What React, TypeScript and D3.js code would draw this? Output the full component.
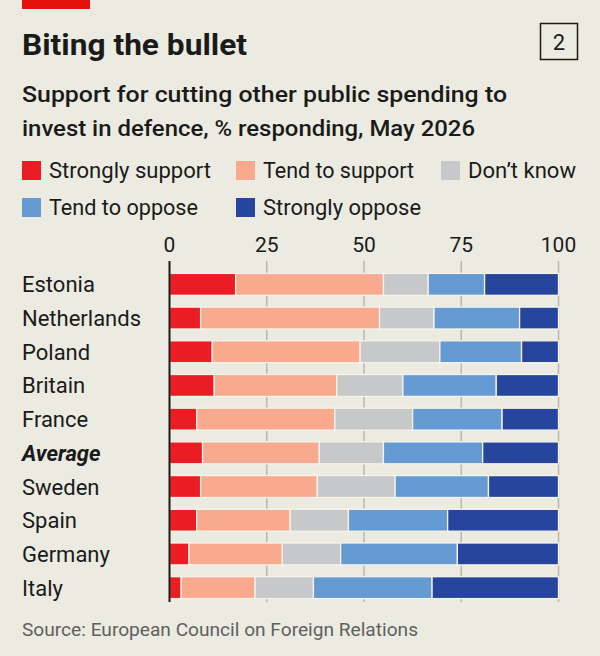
import React, { useEffect, useRef } from 'react';
import * as d3 from 'd3';

const countries = ['Estonia', 'Netherlands', 'Poland', 'Britain', 'France', 'Average', 'Sweden', 'Spain', 'Germany', 'Italy'];
const responses = ['Strongly support', 'Tend to support', "Don\u2019t know", 'Tend to oppose', 'Strongly oppose'];

// % responding, in the same order as countries
const stronglySupport = [17, 8, 11, 11.5, 7, 8.5, 8, 7, 5, 3];
const tendToSupport = [38, 46, 38, 31.5, 35.5, 30, 30, 24, 24, 19];
const dontKnow = [11.5, 14, 20.5, 17, 20, 16.5, 20, 15, 15, 15];
const tendToOppose = [14.5, 22, 21, 24, 23, 25.5, 24, 25.5, 30, 30.5];
const stronglyOppose = [19, 10, 9.5, 16, 14.5, 19.5, 18, 28.5, 26, 32.5];

const ticks = [0, 25, 50, 75, 100];
const colours = ['#ec1c24', '#f9a98d', '#c7c8ca', '#659ad3', '#27459c'];

const W = 600;
const H = 656;
const BG = '#ecebe1';
const FONT = 'Roboto, "Noto Sans", sans-serif';

const App = () => {
  const ref = useRef<HTMLDivElement>(null);

  useEffect(() => {
    d3.select(ref.current).select('svg').remove();

    const svg = d3
      .select(ref.current)
      .append('svg')
      .attr('width', W)
      .attr('height', H)
      .style('display', 'block')
      .style('font-family', FONT);

    svg.append('rect').attr('width', W).attr('height', H).attr('fill', BG);

    // header
    svg.append('rect').attr('x', 22).attr('y', 0).attr('width', 68).attr('height', 9).attr('fill', '#e3120b');
    svg
      .append('text')
      .attr('x', 22)
      .attr('y', 55)
      .attr('font-size', 29)
      .attr('font-weight', 700)
      .attr('fill', '#1a1a1a')
      .attr('textLength', 225)
      .attr('lengthAdjust', 'spacingAndGlyphs')
      .text('Biting the bullet');
    svg
      .append('rect')
      .attr('x', 540.5)
      .attr('y', 23.5)
      .attr('width', 37)
      .attr('height', 36)
      .attr('fill', 'none')
      .attr('stroke', '#1a1a1a')
      .attr('stroke-width', 1.5);
    svg
      .append('text')
      .attr('x', 559)
      .attr('y', 50)
      .attr('text-anchor', 'middle')
      .attr('font-size', 22)
      .attr('fill', '#1a1a1a')
      .text('2');

    const subtitle = ['Support for cutting other public spending to', 'invest in defence, % responding, May 2026'];
    const subW = [485, 453];
    subtitle.forEach((line, i) => {
      svg
        .append('text')
        .attr('x', 22)
        .attr('y', 102 + i * 33.5)
        .attr('font-size', 22.5)
        .attr('font-weight', 500)
        .attr('fill', '#1a1a1a')
        .attr('textLength', subW[i])
        .attr('lengthAdjust', 'spacingAndGlyphs')
        .text(line);
    });

    // legend
    const legendPos = [
      { x: 22, y: 161 },
      { x: 236, y: 161 },
      { x: 441, y: 161 },
      { x: 22, y: 198 },
      { x: 236, y: 198 },
    ];
    const legendW = [162, 151, 108, 149, 158];
    const legend = svg
      .selectAll('.legend')
      .data(responses)
      .enter()
      .append('g')
      .attr('class', 'legend')
      .attr('transform', (d, i) => `translate(${legendPos[i].x}, ${legendPos[i].y})`);
    legend.append('rect').attr('width', 19).attr('height', 19).attr('fill', (d, i) => colours[i]);
    legend
      .append('text')
      .attr('x', 27)
      .attr('y', 17)
      .attr('font-size', 21.5)
      .attr('fill', '#1a1a1a')
      .attr('textLength', (d, i) => legendW[i])
      .attr('lengthAdjust', 'spacingAndGlyphs')
      .text((d) => d);

    // scales
    const x = d3.scaleLinear().domain([0, 100]).range([169.5, 558.5]);
    const y = d3
      .scaleBand()
      .domain(countries)
      .range([267.5, 267.5 + 10 * 33.7])
      .paddingInner(0.35)
      .paddingOuter(0.175);

    const gridTop = 261;
    const gridBottom = 602;

    svg
      .append('g')
      .selectAll('line')
      .data(ticks.slice(1))
      .enter()
      .append('line')
      .attr('x1', (d) => x(d))
      .attr('x2', (d) => x(d))
      .attr('y1', gridTop)
      .attr('y2', gridBottom)
      .attr('stroke', '#b8b8b0')
      .attr('stroke-width', 1.5);

    svg
      .append('g')
      .selectAll('text')
      .data(ticks)
      .enter()
      .append('text')
      .attr('x', (d) => x(d))
      .attr('y', 252)
      .attr('text-anchor', 'middle')
      .attr('font-size', 21)
      .attr('fill', '#1a1a1a')
      .text((d) => d);

    // stacked bars
    const rows = countries.map((c, i) => ({
      country: c,
      0: stronglySupport[i],
      1: tendToSupport[i],
      2: dontKnow[i],
      3: tendToOppose[i],
      4: stronglyOppose[i],
    }));
    const stack = d3.stack<any>().keys(['0', '1', '2', '3', '4']);
    const series = stack(rows);

    svg
      .append('g')
      .selectAll('g')
      .data(series)
      .enter()
      .append('g')
      .attr('fill', (d, i) => colours[i])
      .selectAll('rect')
      .data((d) => d)
      .enter()
      .append('rect')
      .attr('x', (d) => x(d[0]))
      .attr('y', (d) => y(d.data.country)!)
      .attr('width', (d) => x(d[1]) - x(d[0]))
      .attr('height', y.bandwidth())
      .attr('stroke', '#f6f3ea')
      .attr('stroke-width', 1.3);

    // country labels
    svg
      .append('g')
      .selectAll('text')
      .data(countries)
      .enter()
      .append('text')
      .attr('x', 22)
      .attr('y', (d) => y(d)! + y.bandwidth() / 2 + 8)
      .attr('font-size', 22)
      .attr('font-weight', (d) => (d === 'Average' ? 700 : 400))
      .attr('font-style', (d) => (d === 'Average' ? 'italic' : 'normal'))
      .attr('fill', '#1a1a1a')
      .text((d) => d);

    // zero line
    svg
      .append('line')
      .attr('x1', x(0))
      .attr('x2', x(0))
      .attr('y1', gridTop)
      .attr('y2', gridBottom)
      .attr('stroke', '#1a1a1a')
      .attr('stroke-width', 2);

    // source
    svg
      .append('text')
      .attr('x', 22)
      .attr('y', 636)
      .attr('font-size', 18)
      .attr('fill', '#5f5f5f')
      .attr('textLength', 396)
      .attr('lengthAdjust', 'spacingAndGlyphs')
      .text('Source: European Council on Foreign Relations');
  }, []);

  return <div ref={ref} style={{ position: 'absolute', left: 0, top: 0, width: W, height: H }}></div>;
};

export default App;
